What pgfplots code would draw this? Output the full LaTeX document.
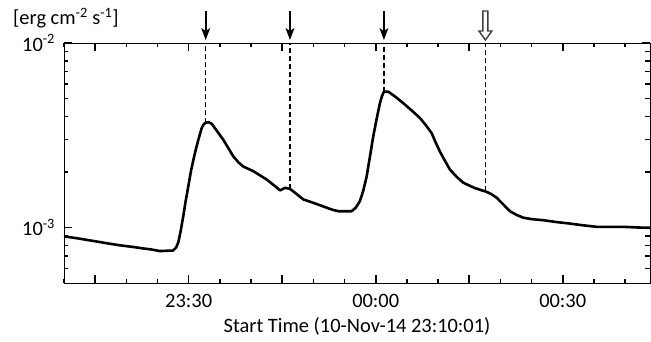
\documentclass[border=0pt]{standalone}
\usepackage{pgfplots}
\pgfplotsset{compat=1.18}
\usepackage{fontspec}
\setmainfont{Carlito}

% GOES soft X-ray flux, time in minutes after 23:10:01
\begin{document}
\fontsize{20.5}{24}\selectfont
\begin{tikzpicture}[line width=2bp]
\begin{axis}[
  scale only axis,
  width=586bp, height=240bp,
  ymode=log,
  xmin=0, xmax=94,
  ymin=5e-4, ymax=1e-2,
  every tick/.style={black, line width=1.6bp},
  major tick length=8bp,
  minor tick length=4.5bp,
  xtick={5,20,35,50,65,80},
  xticklabels={,23:30,,00:00,,00:30},
  minor xtick={0,10,15,25,30,40,45,55,60,70,75,85,90},
  ytick={1e-3,1e-2},
  minor ytick={6e-4,7e-4,8e-4,9e-4,2e-3,3e-3,4e-3,5e-3,6e-3,7e-3,8e-3,9e-3},
  yticklabels={10\textsuperscript{-3},\raisebox{-7bp}{10\textsuperscript{-2}}},
  xticklabel style={yshift=-4bp},
  yticklabel style={xshift=-2bp},
  xlabel={Start Time (10-Nov-14 23:10:01)},
  xlabel style={yshift=4bp},
]
\addplot[black, line width=2.6bp, line join=round] coordinates {
(0,8.95e-4) (2,8.75e-4) (4.7,8.45e-4) (7,8.2e-4) (9,8.0e-4) (11,7.85e-4)
(12.7,7.70e-4) (14,7.6e-4) (15.4,7.45e-4) (16.5,7.48e-4) (17.5,7.5e-4)
(18.0,7.8e-4) (18.33,8.3e-4) (18.7,9.5e-4) (19.13,1.15e-3) (19.5,1.38e-3)
(19.94,1.67e-3) (20.4,2.05e-3) (21.0,2.53e-3) (21.5,2.95e-3) (22.09,3.46e-3)
(22.4,3.62e-3) (22.73,3.70e-3) (23.2,3.72e-3) (23.69,3.65e-3) (24.5,3.35e-3)
(25.55,2.99e-3) (26.4,2.68e-3) (27.15,2.43e-3) (28,2.25e-3) (28.76,2.14e-3)
(30.36,2.02e-3) (32.51,1.82e-3) (34.0,1.66e-3) (34.64,1.59e-3) (35.0,1.61e-3)
(35.44,1.64e-3) (36.25,1.62e-3) (37.3,1.52e-3) (38.38,1.42e-3) (40,1.36e-3)
(41.59,1.30e-3) (43,1.25e-3) (44,1.225e-3) (46.14,1.225e-3) (46.8,1.28e-3)
(47.47,1.39e-3) (48,1.58e-3) (48.55,1.89e-3) (49.1,2.45e-3) (49.61,3.12e-3)
(50.2,3.95e-3) (50.68,4.72e-3) (51.0,5.15e-3) (51.32,5.45e-3) (52.01,5.45e-3)
(53.2,5.1e-3) (54.42,4.72e-3) (55.8,4.3e-3) (57.10,3.92e-3) (58.0,3.6e-3)
(58.97,3.25e-3) (59.6,2.9e-3) (60.30,2.58e-3) (61.1,2.3e-3) (61.91,2.06e-3)
(63,1.88e-3) (64.04,1.75e-3) (65.8,1.64e-3) (67.0,1.59e-3) (67.6,1.57e-3)
(68.5,1.52e-3) (69.40,1.45e-3) (70.5,1.33e-3) (71.53,1.225e-3) (72.6,1.17e-3)
(73.67,1.13e-3) (75,1.11e-3) (76.87,1.095e-3) (79,1.07e-3) (81.15,1.05e-3)
(83,1.03e-3) (85.44,1.008e-3) (87.5,1.008e-3) (89.71,1.008e-3) (92,1.0e-3)
(94,9.96e-4)
};
% event markers
\addplot[black, line width=1.6bp, dash pattern=on 5bp off 3bp] coordinates {(22.73,3.70e-3) (22.73,1e-2)};
\addplot[black, line width=1.6bp, dash pattern=on 5bp off 3bp] coordinates {(36.25,1.62e-3) (36.25,1e-2)};
\addplot[black, line width=1.6bp, dash pattern=on 5bp off 3bp] coordinates {(51.32,5.45e-3) (51.32,1e-2)};
\addplot[black, line width=1.6bp, dash pattern=on 5bp off 3bp] coordinates {(67.6,1.57e-3) (67.6,1e-2)};
\coordinate (a1) at (axis cs:22.73,1e-2);
\coordinate (a2) at (axis cs:36.25,1e-2);
\coordinate (a3) at (axis cs:51.32,1e-2);
\coordinate (a4) at (axis cs:67.6,1e-2);
\end{axis}
% arrows above the frame
\foreach \a in {a1,a2,a3}{
  \draw[line width=2bp] ([yshift=12bp]\a) -- ([yshift=32bp]\a);
  \fill ([yshift=3bp]\a) -- ([xshift=-4.5bp,yshift=15bp]\a) -- ([yshift=12bp]\a) -- ([xshift=4.5bp,yshift=15bp]\a) -- cycle;
}
\draw[black!75, line width=1.4bp, fill=white, line join=miter]
  ([yshift=3bp]a4) -- ([xshift=-6.5bp,yshift=12bp]a4) -- ([xshift=-2.5bp,yshift=12bp]a4)
  -- ([xshift=-2.5bp,yshift=32bp]a4) -- ([xshift=2.5bp,yshift=32bp]a4)
  -- ([xshift=2.5bp,yshift=12bp]a4) -- ([xshift=6.5bp,yshift=12bp]a4) -- cycle;
\node[anchor=base west, inner sep=0pt] at (-51bp,258bp) {[erg cm\textsuperscript{-2} s\textsuperscript{-1}]};
% page extent
\path (-64bp,-59bp) rectangle (587bp,283bp);
\end{tikzpicture}
\end{document}
